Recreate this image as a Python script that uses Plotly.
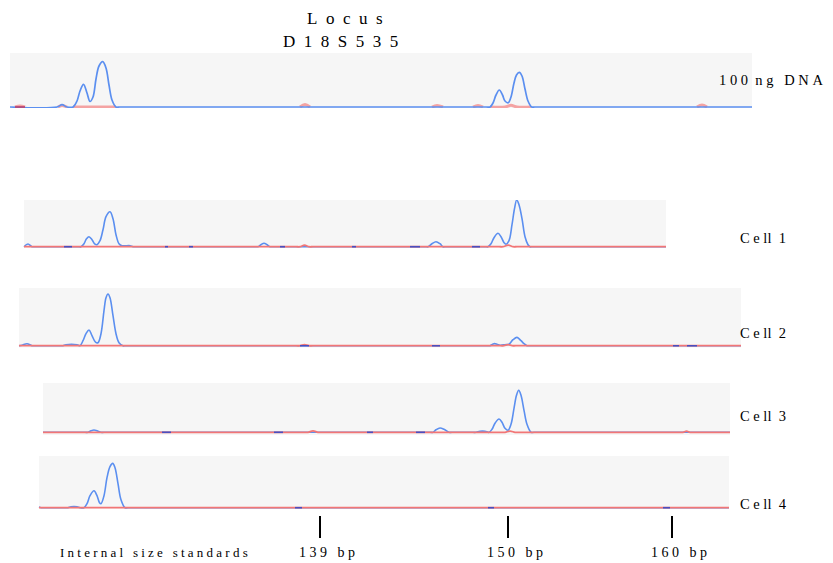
import plotly.graph_objects as go

PAGE_W, PAGE_H = 833, 563
OFF = 8                      # default body margin of the html page
W, H = PAGE_W - OFF, PAGE_H - OFF
NB = "\u00a0"
EN = "\u2002"

# ---------------- DATA (scan position, signal) ----------------
sample_names = ["100 ng DNA", "Cell 1", "Cell 2", "Cell 3", "Cell 4"]
scan_start = [10, 24, 19, 43, 39]
scan_end = [752, 666, 741, 730, 729]

# blue dye channel (x = scan position, y = signal)
blue0_x = [10, 57, 62, 67, 73, 77, 80, 83.5, 87, 90, 93, 96, 99, 102.7, 106, 109, 112, 116, 120,
           486, 490, 493, 496, 499.3, 502.5, 505, 508.3, 511, 514, 516.5, 519.3, 522, 525, 528, 531.7, 535, 752]
blue0_y = [0, 0, 2.3, 0, 0, 6, 16, 22.7, 14, 5.5, 10, 28, 41, 45.3, 39, 22, 7, 0, 0,
           0, 0, 4, 12, 17, 12, 6, 4.3, 10, 24, 32, 34.7, 31, 18, 6, 0, 0, 0]

blue1_x = [24, 28, 32, 35, 78, 81, 84, 86.5, 89, 92, 95, 97, 100, 103, 106, 110, 113, 116, 119, 122, 130, 133, 136,
           255, 258, 261, 264, 267, 270, 273, 425, 428, 432, 436, 440, 443, 446,
           485, 488, 491, 494, 498, 501, 504, 506, 509, 512, 514.5, 516.7, 519, 522, 525, 528, 530, 533, 666]
blue1_y = [0, 2.7, 0, 0, 0, 0, 3, 8, 10, 7, 2.5, 2, 6, 17, 30, 35, 28, 12, 3, 1, 1, 0, 0,
           0, 0, 2, 3.5, 2, 0, 0, 0, 0, 3, 5, 3, 0, 0,
           0, 0, 3, 9, 13.4, 10, 4, 2.4, 6, 22, 38, 46.7, 42, 28, 10, 2, 0, 0, 0]

blue2_x = [19, 22, 27, 32, 35, 60, 63, 66, 77, 80, 83, 86, 89, 92, 95.5, 98, 101, 104, 106, 108, 110, 113, 116, 119, 123, 126,
           487, 490, 494, 497, 500, 505, 509, 513, 517, 521, 524, 527, 530, 741]
blue2_y = [0, 0.5, 2, 0, 0, 0, 0, 1, 1, 0, 5, 12, 15.7, 10, 3.5, 3, 12, 35, 48, 51.7, 48, 30, 12, 3, 0, 0,
           0, 0, 2, 1.5, 0.5, 1, 1.5, 6, 8.3, 5, 2, 0, 0, 0]

blue3_x = [43, 85, 88, 91, 94, 97, 101, 104, 430, 433, 436, 440, 444, 449, 452,
           473, 476, 480, 485, 489, 492, 495, 499, 502, 505, 508, 511, 514, 516.5, 518.7, 521, 524, 527, 531, 534, 730]
blue3_y = [0, 0, 0, 1.5, 2.3, 1.5, 0, 0, 0, 0, 2.5, 4.3, 3, 0, 0,
           0, 0, 1, 1, 0, 3, 9, 13.3, 10, 4, 2, 8, 24, 37, 42, 37, 22, 8, 0, 0, 0]

blue4_x = [39, 41, 44, 65, 68, 71, 77, 80, 84, 87, 90, 94, 97, 99.5, 101, 104, 107, 110, 112.7, 115, 118, 121, 125, 128, 729]
blue4_y = [0.8, 0, 0, 0, 0, 1, 1, 0, 0, 4, 12, 17, 12, 5, 4, 12, 30, 41, 44.3, 40, 24, 8, 0, 0, 0]

# red dye channel (None = no trace drawn)
red0_x = [15, 20, 25, None, 58, 62, 67, None, 73, 116, None, 300, 305, 310, None, 432, 437, 443, None,
          473, 478, 483, None, 490, 505, 511, 517, 531, None, 697, 702, 707]
red0_y = [0, 1, 0, None, 0, 1.5, 0, None, 0, 0, None, 0, 2.5, 0, None, 0, 1.5, 0, None,
          0, 1.5, 0, None, 0, 0, 1.7, 0, 0, None, 0, 2, 0]

red1_x = [24, 296, 300, 304.5, 309, 313, 499, 503, 508.3, 513, 517, 666]
red1_y = [0, 0, 0, 1.5, 0, 0, 0, 0, 1.5, 0, 0, 0]

red2_x = [19, 296, 300, 304.5, 309, 313, 500, 504, 508, 512, 516, 741]
red2_y = [0, 0, 0, 1, 0, 0, 0, 0, 1, 0, 0, 0]

red3_x = [43, 304, 308, 313, 318, 322, 501, 505, 510, 515, 519, 679, 683, 686.5, 690, 694, 730]
red3_y = [0, 0, 0, 1.5, 0, 0, 0, 0, 1.2, 0, 0, 0, 0, 1.2, 0, 0, 0]

red4_x = [39, 729]
red4_y = [0, 0]

# small unlabelled baseline artefacts (start, end scan position)
dash0 = [[15, 25]]
dash1 = [[64, 72], [165, 168], [189, 193], [280, 285], [352, 356], [410, 420], [472, 480]]
dash2 = [[300, 309], [432, 440], [673, 679], [687, 697]]
dash3 = [[162, 171], [274, 283], [367, 373], [416, 425]]
dash4 = [[295, 302], [488, 494], [663, 670]]

# internal size standards
ladder_pos = [320, 508, 672]
ladder_size = [139, 150, 160]

# ---------------- LAYOUT GEOMETRY (pixels on page) ----------------
panel_top = [53, 200, 288, 383, 456]
panel_bottom = [108, 248, 347.5, 435, 509]
panel_base = [107, 246.7, 345.7, 432.3, 507.7]
label_pos = [(716.7, 80), (738.3, 238), (738.3, 333.3), (738.3, 415.7), (738.3, 504.3)]

BLUE = "#5b8ff0"
RED_BASE = "#f27676"
DARK = "#4a4fbe"
GRAY = "#f6f6f6"
FONT = "Liberation Serif"

blues = [(blue0_x, blue0_y), (blue1_x, blue1_y), (blue2_x, blue2_y), (blue3_x, blue3_y), (blue4_x, blue4_y)]
reds = [(red0_x, red0_y), (red1_x, red1_y), (red2_x, red2_y), (red3_x, red3_y), (red4_x, red4_y)]
dashes = [dash0, dash1, dash2, dash3, dash4]

fig = go.Figure()
shapes = []
annotations = []
layout = {}


def px_(p):
    return (p - OFF) / W


def py_(p):
    return 1 - (p - OFF) / H


for i in range(5):
    sfx = "" if i == 0 else str(i + 1)
    xa, ya = "x" + sfx, "y" + sfx
    bx, by = blues[i]
    rx, ry = reds[i]
    dx, dy = [], []
    for a, b in dashes[i]:
        dx += [a, b, None]
        dy += [0, 0, None]
    common = dict(mode="lines", xaxis=xa, yaxis=ya, hoverinfo="skip", showlegend=False)
    if i == 0:
        fig.add_trace(go.Scatter(x=rx, y=ry, line=dict(color="#f4a3a3", width=3, shape="spline"), **common))
        fig.add_trace(go.Scatter(x=bx, y=by, line=dict(color=BLUE, width=1.7, shape="spline"), **common))
        fig.add_trace(go.Scatter(x=dx, y=dy, line=dict(color="#c0406a", width=1.6), **common))
    else:
        fig.add_trace(go.Scatter(x=bx, y=by, line=dict(color=BLUE, width=1.6, shape="spline"), **common))
        fig.add_trace(go.Scatter(x=rx, y=ry, line=dict(color=RED_BASE, width=1.8, shape="spline"), **common))
        fig.add_trace(go.Scatter(x=dx, y=dy, line=dict(color=DARK, width=1.6), **common))

    layout["xaxis" + sfx] = dict(domain=[0, 1], range=[OFF, PAGE_W], visible=False, fixedrange=True)
    layout["yaxis" + sfx] = dict(domain=[py_(panel_bottom[i]), py_(panel_top[i])],
                                 range=[panel_base[i] - panel_bottom[i], panel_base[i] - panel_top[i]],
                                 visible=False, fixedrange=True)
    if i > 0:
        layout["xaxis" + sfx]["anchor"] = ya
        layout["yaxis" + sfx]["anchor"] = xa
    shapes.append(dict(type="rect", xref=xa, yref=ya + " domain", x0=scan_start[i], x1=scan_end[i],
                       y0=0, y1=1, fillcolor=GRAY, line=dict(width=0), layer="below"))

# sample labels
label_text = [
    "1" + NB + "0" + NB + "0" + NB * 2 + "n" + NB + "g" + NB * 3 + "D" + NB + "N" + NB + "A",
    "C" + NB + "e" + NB + "ll" + NB * 2 + "1",
    "C" + NB + "e" + NB + "ll" + NB * 2 + "2",
    "C" + NB + "e" + NB + "ll" + NB * 2 + "3",
    "C" + NB + "e" + NB + "ll" + NB * 2 + "4",
]
for i, t in enumerate(label_text):
    lx, ly = label_pos[i]
    annotations.append(dict(text=t, x=px_(lx), y=py_(ly), xref="paper", yref="paper", xanchor="left",
                            yanchor="middle", showarrow=False, font=dict(family=FONT, size=14.5, color="black")))

# title
annotations.append(dict(text=EN.join("Locus"), x=px_(345), y=1, xref="paper", yref="paper",
                        xanchor="center", yanchor="top", showarrow=False, borderpad=0,
                        font=dict(family=FONT, size=17, color="black")))
annotations.append(dict(text=EN.join("D18S535"), x=px_(340), y=py_(41), xref="paper", yref="paper",
                        xanchor="center", yanchor="middle", showarrow=False,
                        font=dict(family=FONT, size=17, color="black")))

# size standards
annotations.append(dict(text=(NB * 3).join(NB.join(w) for w in "Internal size standards".split()),
                        x=px_(57.7), y=py_(552), xref="paper", yref="paper", xanchor="left", yanchor="middle",
                        showarrow=False, font=dict(family=FONT, size=13, color="black")))
for p, s in zip(ladder_pos, ladder_size):
    shapes.append(dict(type="line", xref="x", yref="paper", x0=p, x1=p, y0=py_(516), y1=py_(538),
                       line=dict(color="black", width=2)))
    annotations.append(dict(text=NB.join(str(s)) + NB * 3 + "b" + NB + "p", x=p + 7, y=py_(552), xref="x",
                            yref="paper", xanchor="center", yanchor="middle", showarrow=False,
                            font=dict(family=FONT, size=14, color="black")))

fig.update_layout(width=W, height=H, margin=dict(l=0, r=0, t=0, b=0), paper_bgcolor="white",
                  plot_bgcolor="rgba(0,0,0,0)", showlegend=False, shapes=shapes, annotations=annotations,
                  **layout)
fig.write_html("out.html")
